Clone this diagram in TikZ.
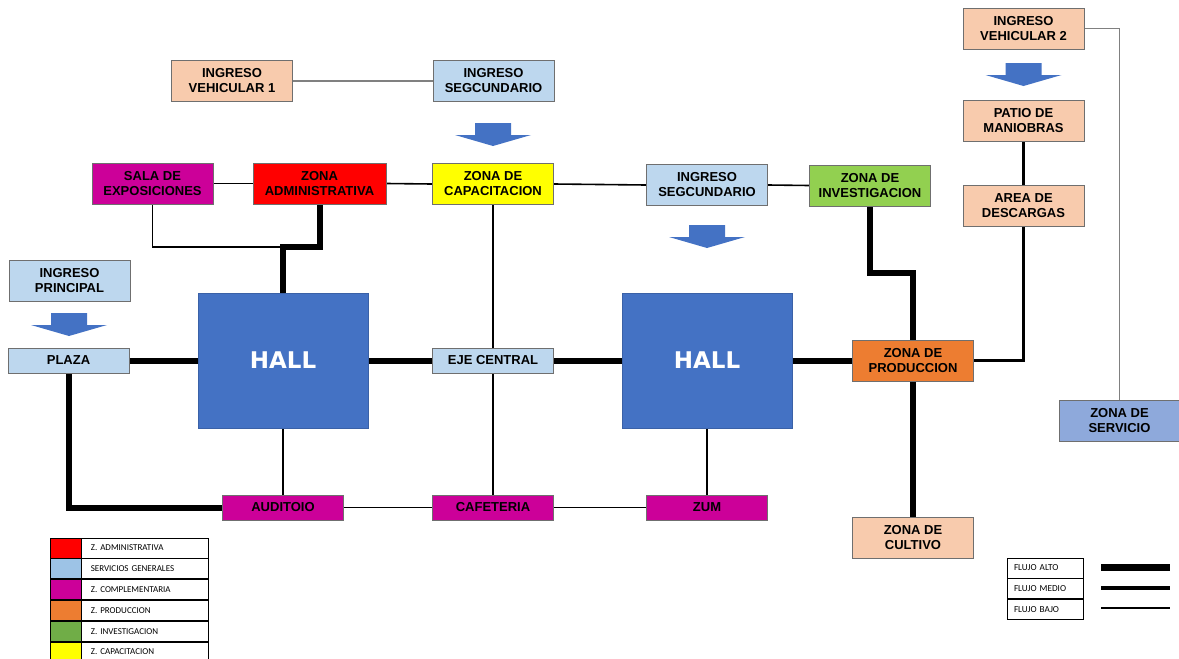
\documentclass[tikz,border=0pt]{standalone}
\usepackage{fontspec}
\setmainfont{Liberation Sans}
\newfontfamily\legfont{Carlito}
\newfontfamily\hallfont{DejaVu Sans}
\usetikzlibrary{positioning}
\pgfdeclarelayer{background}
\pgfsetlayers{background,main}

\definecolor{peach}{HTML}{F8CBAD}
\definecolor{svc}{HTML}{BDD7EE}
\definecolor{compl}{HTML}{CC0099}
\definecolor{adm}{HTML}{FF0000}
\definecolor{capa}{HTML}{FFFF00}
\definecolor{inv}{HTML}{92D050}
\definecolor{prod}{HTML}{ED7D31}
\definecolor{hallblue}{HTML}{4472C4}
\definecolor{servz}{HTML}{8EA9DB}
\definecolor{boxgray}{HTML}{6F6F6F}
\definecolor{linkgray}{HTML}{808080}
\definecolor{leggreen}{HTML}{70AD47}
\definecolor{legblue}{HTML}{9DC3E6}

\tikzset{
  zone/.style={draw=boxgray, line width=0.9pt, minimum width=121pt,
    minimum height=41pt, inner sep=0pt, align=center,
    font=\bfseries\fontsize{13}{15}\selectfont},
  slim/.style={zone, minimum height=25pt},
  hall/.style={draw=hallblue!85!black, line width=0.8pt, fill=hallblue,
    minimum width=170pt, minimum height=135pt, inner sep=0pt,
    text=white, font=\hallfont\bfseries\fontsize{23}{28}\selectfont},
  alto/.style={line width=6pt},
  medio/.style={line width=3.5pt},
  bajo/.style={line width=1.6pt},
  gris/.style={line width=1.2pt, draw=linkgray},
  downblock/.pic={
    \fill[hallblue] (-18,-23) -- (18,-23) -- (18,-11) -- (38,-11)
      -- (0,0) -- (-38,-11) -- (-18,-11) -- cycle;
  },
  legsw/.style={draw=black, line width=0.8pt, minimum width=31pt,
    minimum height=20pt, inner sep=0pt},
  legtx/.style={draw=black, line width=0.8pt, minimum height=20pt,
    text width=109pt, inner xsep=9pt, inner ysep=0pt, align=left,
    font=\legfont\fontsize{9}{10}\selectfont},
  flujo/.style={draw=black, line width=0.8pt, minimum height=20pt,
    text width=62pt, inner xsep=7pt, inner ysep=0pt, align=left,
    font=\legfont\fontsize{9.2}{10}\selectfont},
}

\begin{document}
\begin{tikzpicture}[x=1pt,y=-1pt]
\useasboundingbox (0,0) rectangle (1179,659);

% ---- zones ----
\node[zone, fill=peach] (iv1) at (232,81) {INGRESO\\VEHICULAR 1};
\node[zone, fill=svc] (isup) at (493.5,81) {INGRESO\\SEGCUNDARIO};
\node[zone, fill=compl] (sala) at (152.5,183.5) {SALA DE\\EXPOSICIONES};
\node[zone, fill=adm, minimum width=133pt] (adm) at (319.5,183.5) {ZONA\\ADMINISTRATIVA};
\node[zone, fill=capa] (cap) at (493,184) {ZONA DE\\CAPACITACION};
\node[zone, fill=svc] (imid) at (707,185) {INGRESO\\SEGCUNDARIO};
\node[zone, fill=inv] (inv) at (870,185.5) {ZONA DE\\INVESTIGACION};
\node[zone, fill=peach] (iv2) at (1023.5,28.5) {INGRESO\\VEHICULAR 2};
\node[zone, fill=peach] (patio) at (1023.5,120.5) {PATIO DE\\MANIOBRAS};
\node[zone, fill=peach] (desc) at (1023.5,205.5) {AREA DE\\DESCARGAS};
\node[zone, fill=servz] (serv) at (1119.5,420.5) {ZONA DE\\SERVICIO};
\node[zone, fill=svc] (iprin) at (69.5,280.5) {INGRESO\\PRINCIPAL};
\node[slim, fill=svc] (plaza) at (68.5,360.5) {PLAZA};
\node[hall] (hall1) at (283,360.5) {HALL};
\node[slim, fill=svc] (eje) at (493,360.5) {EJE CENTRAL};
\node[hall] (hall2) at (707,360.5) {HALL};
\node[zone, fill=prod] (prod) at (913,360.5) {ZONA DE\\PRODUCCION};
\node[zone, fill=peach] (cult) at (913,537.5) {ZONA DE\\CULTIVO};
\node[slim, fill=compl] (audi) at (283,507.5) {AUDITOIO};
\node[slim, fill=compl] (cafe) at (493,507.5) {CAFETERIA};
\node[slim, fill=compl] (zum) at (707,507.5) {ZUM};

% ---- entry arrows ----
\pic (arrsup) at (493,146) {downblock};
\pic (arrmid) at (707,248) {downblock};
\pic (arrveh) at (1023.5,86) {downblock};
\pic (arrpri) at (69,336) {downblock};

% ---- junctions ----
\coordinate (jadm) at (283,247);
\coordinate (jinv) at (913,273);

% ---- connectors ----
\begin{pgfonlayer}{background}
  \draw[gris] (iv1.east) -- (isup.west);
  \draw[gris] (iv2.east) -| (serv.north);
  \draw[bajo] (sala.east) -- (adm.west);
  \draw[bajo] (adm.east) -- (cap.west);
  \draw[bajo] (cap.east) -- (imid.west);
  \draw[bajo] (imid.east) -- (inv.west);
  \draw[bajo] (sala.south) |- (jadm);
  \draw[alto] (adm.south) |- (jadm) -- (hall1.north);
  \draw[bajo] (cap.south) -- (eje.north);
  \draw[bajo] (eje.south) -- (cafe.north);
  \draw[alto] (plaza.east) -- (hall1.west);
  \draw[alto] (hall1.east) -- (eje.west);
  \draw[alto] (eje.east) -- (hall2.west);
  \draw[alto] (hall2.east) -- (prod.west);
  \draw[alto] (plaza.south) |- (audi.west);
  \draw[bajo] (hall1.south) -- (audi.north);
  \draw[bajo] (audi.east) -- (cafe.west);
  \draw[bajo] (cafe.east) -- (zum.west);
  \draw[bajo] (hall2.south) -- (zum.north);
  \draw[alto] (inv.south) |- (jinv) -- (prod.north);
  \draw[alto] (prod.south) -- (cult.north);
  \draw[medio] (patio.south) -- (desc.north);
  \draw[medio] (desc.south) |- (prod.east);
\end{pgfonlayer}

% ---- colour legend ----
\node[legsw, fill=adm] (ls1) at (65.5,548) {};
\node[legtx, right=0pt of ls1] (lt1) {Z. ADMINISTRATIVA};
\node[legsw, fill=legblue, below=0pt of ls1] (ls2) {};
\node[legtx, right=0pt of ls2] (lt2) {SERVICIOS GENERALES};
\node[legsw, fill=compl, below=0pt of ls2] (ls3) {};
\node[legtx, right=0pt of ls3] (lt3) {Z. COMPLEMENTARIA};
\node[legsw, fill=prod, below=0pt of ls3] (ls4) {};
\node[legtx, right=0pt of ls4] (lt4) {Z. PRODUCCION};
\node[legsw, fill=leggreen, below=0pt of ls4] (ls5) {};
\node[legtx, right=0pt of ls5] (lt5) {Z. INVESTIGACION};
\node[legsw, fill=capa, below=0pt of ls5] (ls6) {};
\node[legtx, right=0pt of ls6] (lt6) {Z. CAPACITACION};

% ---- flow legend ----
\node[flujo] (fa) at (1045,568) {FLUJO ALTO};
\node[flujo, below=0pt of fa] (fm) {FLUJO MEDIO};
\node[flujo, below=0pt of fm] (fb) {FLUJO BAJO};
\coordinate (fa1) at (1101,567.5);
\coordinate (fa2) at (1170,567.5);
\coordinate (fm1) at (1101,588);
\coordinate (fm2) at (1170,588);
\coordinate (fb1) at (1101,608);
\coordinate (fb2) at (1170,608);
\draw[line width=6.5pt] (fa1) -- (fa2);
\draw[line width=4pt] (fm1) -- (fm2);
\draw[line width=1.4pt] (fb1) -- (fb2);
\end{tikzpicture}
\end{document}
